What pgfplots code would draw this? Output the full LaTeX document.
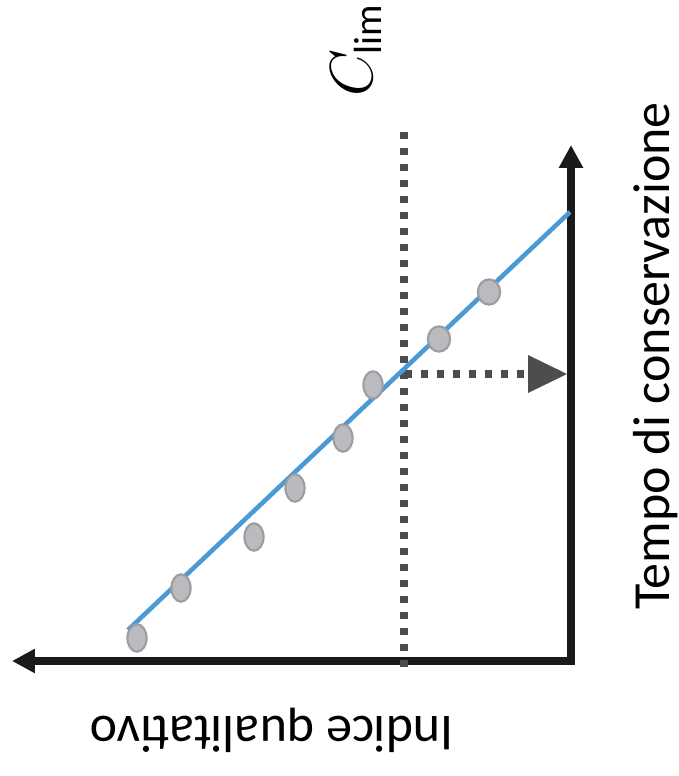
\documentclass[border=0pt]{standalone}
\usepackage{pgfplots}
\pgfplotsset{compat=1.18}
\usepackage{fontspec}
\setmainfont{Carlito}
\usetikzlibrary{arrows.meta}
\definecolor{lineblue}{HTML}{4A9AD6}
\definecolor{dotgray}{HTML}{4D4D4F}
\definecolor{ptfill}{HTML}{B9BBBE}
\definecolor{ptedge}{HTML}{9C9DA0}
\definecolor{axblack}{HTML}{1A1A1A}
\begin{document}
\begin{tikzpicture}
\begin{axis}[scale only axis, width=6.79cm, height=7.76cm,
  xmin=0, xmax=679, ymin=0, ymax=776, y dir=reverse,
  hide axis, clip=false]
\addplot[draw=none, forget plot] coordinates {(0,0) (679,776)};
% axes
\addplot[line width=2pt, axblack, line join=miter,
  {Triangle[length=6.5pt,width=6.5pt]}-{Triangle[length=6.5pt,width=6.5pt]}]
  coordinates {(12,661) (571,661) (571,145)};
% dotted vertical C_lim line
\addplot[line width=2pt, dotgray, dash pattern=on 2pt off 2.55pt]
  coordinates {(404,132) (404,668)};
% dotted horizontal
\addplot[line width=2pt, dotgray, dash pattern=on 2pt off 2.55pt]
  coordinates {(405,374) (526,374)};
\addplot[fill=dotgray, draw=none] coordinates {(528,355) (567,374) (528,393)} -- cycle;
% points
\addplot[only marks, mark=*, mark size=3.9pt,
  mark options={xscale=0.7, fill=ptfill, draw=ptedge, line width=0.6pt}]
  coordinates {(137,638) (181,588) (254,537) (295,488) (343,438) (373,385)};
\addplot[only marks, mark=*, mark size=3.6pt,
  mark options={xscale=0.88, fill=ptfill, draw=ptedge, line width=0.6pt}]
  coordinates {(439,339) (489,292)};
% regression line (drawn over the points)
\addplot[line width=1.3pt, lineblue] coordinates {(128,630) (570,212)};
% labels
\node[rotate=90, inner sep=0pt, font=\fontsize{16}{19}\selectfont] at (axis cs:356,50) {$C_{\mathrm{lim}}$};
\node[rotate=90, inner sep=0pt, font=\fontsize{14.8}{17}\selectfont] at (axis cs:656,356) {Tempo di conservazione};
\node[rotate=180, inner sep=0pt, font=\fontsize{14.8}{17}\selectfont] at (axis cs:272,730) {Indice qualitativo};
\end{axis}
\end{tikzpicture}
\end{document}
